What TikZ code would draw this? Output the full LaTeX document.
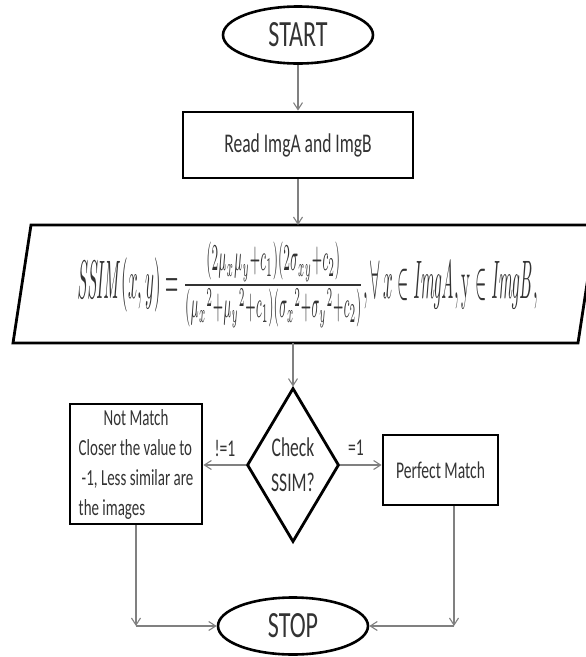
\documentclass[tikz,border=0pt]{standalone}
\usepackage[no-math]{fontspec}
\setmainfont{Carlito}
\newfontfamily\nf{Carlito}[FakeStretch=0.65]
\usetikzlibrary{shapes.geometric,arrows.meta,calc}
\begin{document}
\begin{tikzpicture}[x=1pt,y=-1pt,
  box/.style={draw=black,line width=2.8pt,rectangle,inner sep=0pt,text=black!80,font=\nf},
  term/.style={draw=black,line width=2.6pt,ellipse,minimum width=150pt,minimum height=57pt,inner sep=0pt,text=black!80,font=\nf\fontsize{37}{40}\selectfont},
  conn/.style={draw=black!50,line width=1.2pt,-{Straight Barb[length=7pt,width=9pt,line width=1.1pt]}},
  lbl/.style={text=black!80,font=\nf\fontsize{24}{28}\selectfont,inner sep=0pt}]
\useasboundingbox (0,0) rectangle (586,657);
\clip (0,0) rectangle (586,657);
\node[term] (start) at (298,35) {START};
\node[box,minimum width=230pt,minimum height=66pt,font=\nf\fontsize{27}{30}\selectfont] (read) at (298,145) {Read ImgA and ImgB};
\coordinate (pbl) at (13,343);
\coordinate (ptl) at (31,225);
\coordinate (ptr) at (596,225);
\coordinate (pbr) at (578,343);
\draw[line width=2.8pt,line join=miter] (pbl) -- (ptl) -- (ptr) -- (pbr) -- cycle;
\node[inner sep=0pt,text=black!80] (ssim) at (308,285) {\resizebox{460pt}{56pt}{$\mathit{SSIM}(x,y)=\frac{(2\mu_x\mu_y+c_1)(2\sigma_{xy}+c_2)}{(\mu_x{}^2+\mu_y{}^2+c_1)(\sigma_x{}^2+\sigma_y{}^2+c_2)},\forall\,x\in \mathit{ImgA},\mathrm{y}\in \mathit{ImgB},$}};
\node[draw=black,line width=2.8pt,diamond,aspect=0.6,minimum width=92pt,minimum height=154pt,inner sep=0pt,align=center,text=black!80,font=\nf\fontsize{27}{35}\selectfont] (chk) at (293,465) {Check\\SSIM?};
\node[box,minimum width=132pt,minimum height=120pt,font=\nf\fontsize{23}{30}\selectfont] (nm) at (136,464) {\begin{tabular}{@{}l@{}}\multicolumn{1}{@{}c@{}}{Not Match}\\Closer the value to\\\hspace*{3pt}-1, Less similar are\\the images\end{tabular}};
\node[box,minimum width=115pt,minimum height=70pt,font=\nf\fontsize{24}{28}\selectfont] (pm) at (440.5,470) {Perfect Match};
\node[term] (stop) at (293,626) {STOP};
\draw[conn] (start) -- (read);
\draw[conn] (read) -- (read.south |- ptl);
\draw[conn] (chk.north |- pbl) -- (chk);
\draw[conn] (chk.west) -- (nm.east |- chk.west);
\draw[conn] (chk.east) -- (pm.west |- chk.east);
\node[lbl] (ne) at (225,448) {!=1};
\node[lbl] (eq) at (356,448) {=1};
\draw[conn] (nm.south) -- (nm.south |- stop.west);
\draw[conn] (nm.south |- stop.west) -- (stop.west);
\draw[conn] ([xshift=13.5pt]pm.south) -- ([xshift=13.5pt]pm.south |- stop.east);
\draw[conn] ([xshift=13.5pt]pm.south |- stop.east) -- (stop.east);
\end{tikzpicture}
\end{document}
